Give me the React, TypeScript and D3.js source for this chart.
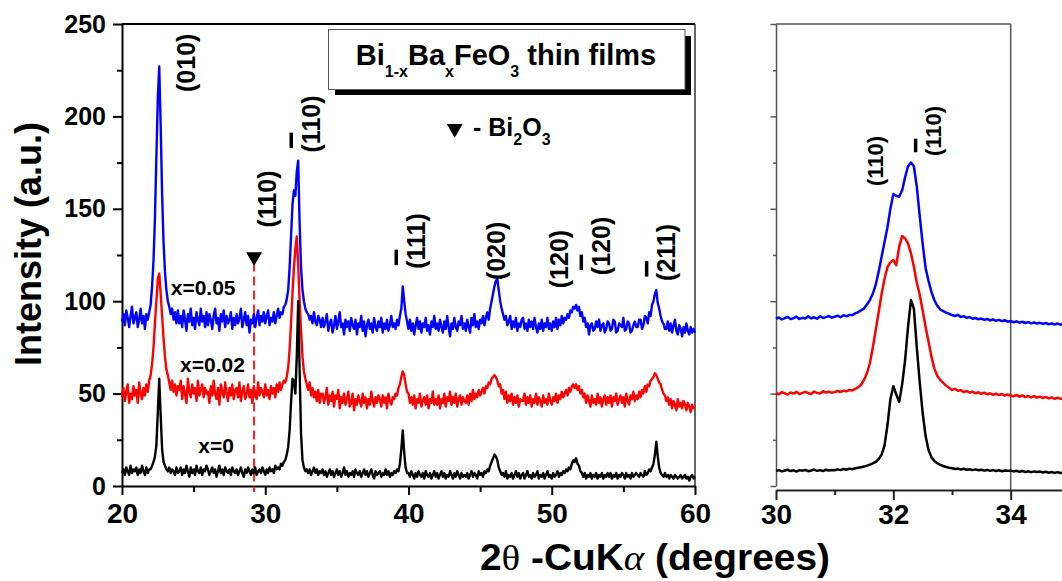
import { useEffect, useRef } from "react";
import * as d3 from "d3";

// survey scans, 2theta = 20..60 deg, 0.1 deg step (one row = 2 deg)
const SCAN_START = 20;
const SCAN_STEP = 0.1;

// x = 0.05
const scanBlue = [
  89, 93, 87, 95, 91, 86, 92, 97, 88, 91, 94, 86, 90, 96, 88, 92, 85, 93, 90, 94,
  98, 108, 122, 145, 178, 210, 227, 195, 158, 132, 116, 106, 100, 97, 93, 96, 90, 94, 88, 95,
  88, 92, 86, 95, 90, 84, 93, 89, 96, 87, 91, 85, 94, 90, 87, 96, 89, 92, 86, 94,
  87, 93, 90, 85, 92, 96, 88, 91, 84, 93, 89, 95, 86, 92, 88, 90, 94, 85, 91, 87,
  93, 88, 91, 96, 86, 90, 94, 87, 92, 83, 90, 88, 93, 86, 91, 95, 87, 92, 89, 94,
  88, 92, 95, 87, 91, 89, 94, 88, 92, 96, 91, 94, 93, 97, 98, 101, 106, 118, 135, 152,
  160, 157, 170, 176, 142, 118, 106, 100, 96, 94, 93, 90, 92, 88, 94, 89, 87, 92, 90, 86,
  91, 86, 89, 93, 84, 88, 90, 83, 87, 92, 85, 89, 94, 86, 88, 82, 90, 86, 89, 84,
  91, 87, 85, 90, 82, 88, 86, 92, 84, 89, 81, 87, 90, 85, 88, 83, 91, 86, 84, 89,
  86, 91, 83, 88, 85, 90, 84, 87, 92, 86, 88, 85, 90, 87, 92, 96, 108, 100, 93, 89,
  85, 90, 84, 88, 82, 87, 91, 85, 89, 83, 88, 86, 91, 84, 87, 82, 89, 86, 92, 85,
  88, 84, 90, 86, 83, 89, 85, 92, 86, 81, 88, 85, 91, 86, 84, 89, 87, 92, 85, 88,
  84, 90, 86, 83, 91, 87, 93, 86, 89, 85, 90, 88, 92, 87, 91, 94, 90, 96, 100, 104,
  108, 111, 112, 106, 100, 96, 93, 90, 92, 87, 89, 92, 85, 89, 86, 91, 84, 88, 86, 90,
  91, 85, 88, 84, 90, 86, 89, 85, 91, 86, 83, 88, 85, 90, 84, 88, 86, 91, 85, 88,
  84, 89, 86, 91, 85, 90, 87, 92, 88, 91, 90, 93, 91, 95, 94, 97, 96, 98, 95, 97,
  92, 94, 89, 91, 86, 88, 82, 87, 88, 84, 85, 89, 86, 90, 84, 87, 88, 83, 85, 89,
  88, 84, 85, 90, 89, 83, 84, 88, 87, 86, 91, 84, 85, 89, 88, 83, 84, 87, 89, 86,
  86, 90, 90, 85, 87, 92, 91, 88, 94, 92, 98, 100, 104, 106, 99, 96, 92, 89, 88, 85,
  85, 89, 84, 88, 83, 87, 90, 84, 82, 87, 85, 81, 86, 83, 88, 84, 82, 86, 83, 85,
  83,
];

// x = 0.02
const scanRed = [
  48, 53, 46, 51, 55, 45, 50, 47, 54, 49, 52, 45, 56, 50, 47, 53, 49, 55, 51, 57,
  60, 66, 75, 88, 100, 112, 115, 104, 92, 80, 70, 63, 60, 56, 52, 57, 51, 55, 49, 54,
  52, 57, 47, 54, 50, 45, 58, 51, 48, 55, 50, 53, 46, 57, 49, 52, 55, 48, 53, 50,
  51, 45, 54, 49, 57, 50, 47, 53, 44, 55, 51, 48, 56, 50, 46, 53, 49, 55, 47, 52,
  53, 48, 56, 46, 51, 54, 47, 50, 55, 48, 52, 45, 54, 50, 47, 56, 49, 53, 51, 48,
  55, 49, 52, 47, 54, 50, 53, 48, 55, 51, 56, 52, 55, 57, 56, 59, 64, 74, 88, 104,
  118, 128, 135, 120, 100, 84, 70, 62, 58, 55, 52, 56, 49, 53, 48, 51, 46, 52, 45, 50,
  50, 45, 48, 53, 44, 49, 46, 51, 43, 49, 47, 52, 42, 48, 45, 50, 44, 47, 51, 43,
  45, 50, 41, 47, 44, 49, 46, 43, 50, 45, 48, 42, 47, 44, 51, 46, 43, 48, 45, 49,
  47, 43, 49, 45, 48, 42, 50, 46, 44, 48, 47, 50, 49, 53, 55, 59, 62, 60, 55, 51,
  50, 45, 48, 44, 49, 42, 47, 45, 50, 43, 46, 48, 44, 49, 42, 47, 45, 51, 44, 47,
  44, 49, 42, 47, 45, 50, 43, 48, 46, 51, 44, 48, 45, 50, 43, 47, 49, 44, 48, 46,
  45, 49, 44, 50, 46, 52, 47, 50, 48, 52, 49, 51, 53, 50, 54, 53, 56, 55, 58, 59,
  60, 59, 57, 54, 55, 50, 52, 47, 51, 45, 49, 46, 50, 44, 48, 45, 49, 43, 47, 46,
  46, 50, 44, 48, 45, 49, 43, 47, 45, 50, 44, 48, 46, 43, 49, 45, 47, 44, 50, 46,
  44, 48, 46, 50, 45, 49, 47, 51, 48, 50, 52, 49, 53, 51, 54, 55, 53, 55, 52, 54,
  50, 52, 48, 50, 45, 49, 46, 43, 49, 45, 47, 44, 50, 45, 48, 43, 47, 49, 44, 48,
  45, 49, 43, 48, 46, 50, 44, 47, 49, 45, 48, 43, 50, 46, 44, 49, 47, 51, 46, 49,
  47, 51, 48, 52, 50, 54, 51, 55, 54, 57, 58, 59, 61, 60, 58, 56, 55, 52, 50, 49,
  46, 48, 44, 47, 42, 46, 44, 41, 47, 43, 45, 42, 46, 44, 41, 45, 43, 40, 44, 42,
  43,
];

// x = 0
const scanBlack = [
  7, 9, 6, 10, 8, 6, 11, 7, 9, 8, 10, 6, 9, 7, 11, 8, 6, 10, 7, 9,
  9, 11, 13, 16, 22, 40, 58, 38, 20, 13, 11, 9, 8, 10, 7, 9, 8, 6, 10, 7,
  8, 10, 6, 9, 7, 11, 8, 5, 10, 7, 9, 6, 11, 8, 7, 10, 6, 9, 8, 11,
  9, 6, 8, 10, 7, 9, 5, 8, 11, 7, 9, 6, 10, 8, 7, 9, 6, 10, 8, 7,
  9, 6, 8, 10, 7, 5, 9, 7, 10, 8, 6, 9, 7, 10, 6, 8, 9, 7, 10, 8,
  6, 9, 7, 10, 8, 9, 7, 11, 9, 10, 9, 12, 11, 13, 14, 17, 21, 30, 45, 58,
  57, 50, 70, 100, 62, 28, 14, 10, 8, 9, 7, 9, 6, 8, 10, 7, 9, 6, 8, 7,
  9, 6, 8, 5, 7, 9, 6, 8, 5, 7, 9, 6, 8, 5, 7, 10, 6, 8, 5, 7,
  6, 8, 5, 9, 7, 6, 8, 5, 7, 9, 6, 8, 5, 7, 9, 6, 4, 8, 6, 7,
  8, 5, 7, 6, 9, 6, 8, 5, 7, 6, 8, 7, 9, 8, 12, 20, 30, 18, 10, 7,
  7, 5, 8, 6, 4, 7, 5, 8, 6, 5, 7, 4, 8, 6, 5, 7, 4, 6, 8, 5,
  7, 4, 6, 8, 5, 7, 4, 6, 5, 8, 6, 4, 7, 5, 8, 6, 4, 7, 5, 6,
  5, 7, 4, 6, 8, 5, 7, 6, 4, 8, 6, 7, 5, 8, 7, 9, 8, 11, 13, 15,
  17, 16, 14, 10, 8, 6, 7, 5, 8, 4, 6, 5, 7, 4, 6, 8, 5, 7, 4, 6,
  7, 4, 6, 8, 5, 6, 4, 7, 5, 6, 8, 4, 6, 5, 7, 4, 6, 8, 5, 6,
  4, 7, 5, 6, 8, 5, 7, 6, 8, 7, 9, 8, 10, 9, 12, 14, 13, 15, 12, 11,
  8, 7, 5, 7, 4, 6, 5, 7, 4, 6, 5, 7, 4, 6, 5, 7, 4, 6, 5, 7,
  5, 7, 4, 6, 5, 7, 4, 6, 5, 7, 6, 4, 7, 5, 6, 4, 7, 5, 6, 7,
  6, 5, 7, 6, 5, 8, 6, 7, 9, 8, 10, 12, 17, 24, 16, 10, 7, 6, 5, 7,
  5, 6, 4, 6, 5, 4, 6, 5, 4, 5, 6, 4, 5, 6, 4, 5, 3, 5, 6, 4,
  5,
];

// zoomed scans, 2theta = 30..35 deg, 0.05 deg step (one row = 0.5 deg)
const ZOOM_START = 30;
const ZOOM_STEP = 0.05;

const zoomBlue = [
  90.5, 91.2, 90.1, 90.9, 91.5, 90.3, 90.8, 91.6, 90.4, 91.0,
  90.6, 91.8, 90.7, 91.3, 90.5, 91.9, 90.9, 91.4, 92.0, 91.1,
  91.6, 92.2, 91.3, 92.4, 91.8, 92.6, 92.5, 93.4, 94.0, 95.1,
  96.0, 98.2, 100.6, 104.0, 109.0, 116.0, 124.0, 132.0, 140.0, 150.0,
  158.0, 157.0, 156.5, 160.0, 167.0, 173.0, 175.0, 173.0, 162.0, 146.0,
  131.0, 118.0, 111.0, 105.0, 100.5, 97.5, 95.5, 94.6, 93.8, 93.2,
  92.5, 92.0, 92.6, 91.5, 91.9, 91.0, 91.4, 90.5, 90.9, 90.2,
  90.6, 89.9, 90.4, 89.6, 90.1, 89.4, 89.9, 89.2, 89.7, 89.0,
  89.2, 88.6, 89.1, 88.4, 88.9, 88.2, 88.7, 88.0, 88.5, 87.9,
  88.3, 87.7, 88.2, 87.5, 88.0, 87.4, 87.9, 87.3, 87.7, 87.4,
  87.5,
];

const zoomRed = [
  50.2, 49.6, 50.8, 50.1, 49.5, 50.6, 50.0, 51.0, 49.7, 50.4,
  50.9, 50.2, 49.8, 51.1, 50.4, 50.0, 51.3, 50.6, 51.0, 50.5,
  50.8, 51.4, 50.9, 51.6, 51.2, 52.0, 51.8, 52.6, 53.4, 54.8,
  57.4, 61.0, 66.4, 75.0, 84.4, 94.0, 104.0, 112.0, 118.5, 121.0,
  122.3, 119.5, 129.5, 135.3, 134.0, 131.3, 126.0, 118.7, 110.0, 103.5,
  95.0, 86.0, 78.0, 70.0, 63.5, 59.5, 57.4, 55.8, 54.3, 53.2,
  52.0, 52.6, 51.5, 51.9, 50.8, 51.4, 50.5, 51.1, 50.2, 50.7,
  49.9, 50.5, 49.6, 50.2, 49.3, 50.0, 49.2, 49.8, 48.9, 49.5,
  49.0, 48.5, 49.3, 48.3, 49.0, 48.1, 48.7, 47.9, 48.6, 47.8,
  48.4, 47.6, 48.2, 47.4, 48.0, 47.2, 47.8, 47.1, 47.6, 47.0,
  47.0,
];

const zoomBlack = [
  8.2, 8.6, 7.9, 8.4, 8.8, 8.1, 8.5, 7.8, 8.6, 8.3,
  8.7, 8.0, 8.4, 8.9, 8.2, 8.6, 8.1, 8.8, 8.4, 8.7,
  8.5, 9.0, 8.6, 9.2, 8.8, 9.4, 9.1, 9.6, 9.9, 10.2,
  10.5, 11.0, 11.6, 12.2, 13.0, 14.5, 17.0, 22.0, 33.0, 47.0,
  54.0, 49.5, 45.5, 55.0, 68.0, 86.0, 100.5, 96.0, 75.0, 56.0,
  39.5, 27.0, 19.5, 15.5, 13.5, 12.3, 11.4, 10.8, 10.3, 9.9,
  9.6, 9.2, 9.5, 8.9, 9.3, 8.8, 9.1, 8.6, 9.0, 8.5,
  8.8, 8.3, 8.7, 8.2, 8.6, 8.1, 8.5, 8.0, 8.4, 8.2,
  8.3, 7.9, 8.2, 7.7, 8.1, 7.6, 8.0, 7.5, 7.9, 7.6,
  7.8, 7.3, 7.7, 7.2, 7.6, 7.1, 7.5, 7.0, 7.4, 7.2,
  7.2,
];

const seriesNames = ["x=0.05", "x=0.02", "x=0"];
const seriesColors = ["#0000ff", "#ff0000", "#000000"];
// where the series names sit (2theta, intensity)
const seriesNameAt = [[23.4, 103.4], [24.05, 61.9], [25.33, 17.7]];

const yTicks = [0, 50, 100, 150, 200, 250];
const yMinor = [25, 75, 125, 175, 225];
const xTicksLeft = [20, 30, 40, 50, 60];
const xMinorLeft = [25, 35, 45, 55];
const xTicksRight = [30, 32, 34];
const xMinorRight = [31, 33, 35];

// reflection labels: text, overbar on first index, label centre (2theta, intensity)
const peaksLeft = [
  { text: "(010)", bar: false, at: [24.63, 229] },
  { text: "(110)", bar: false, at: [30.33, 155.3] },
  { text: "(110)", bar: true, at: [33.35, 195.9] },
  { text: "(111)", bar: true, at: [40.68, 132.6] },
  { text: "(020)", bar: false, at: [46.3, 127.2] },
  { text: "(120)", bar: false, at: [50.65, 122.8] },
  { text: "(120)", bar: true, at: [53.6, 129.9] },
  { text: "(211)", bar: true, at: [58.16, 126.4] },
];
const peaksRight = [
  { text: "(110)", bar: false, at: [31.73, 175.9] },
  { text: "(110)", bar: true, at: [32.71, 192.1] },
];

// Bi2O3 impurity line
const bi2o3Angle = 29.22;

const FONT = "'Liberation Sans', Arial, sans-serif";

const App = () => {
  const ref = useRef<SVGSVGElement>(null);

  useEffect(() => {
    const svg = d3.select(ref.current);
    svg.selectAll("*").remove();
    svg.attr("font-family", FONT).attr("font-weight", "bold");

    const x = d3.scaleLinear().domain([20, 60]).range([122, 695]);
    const xr = d3.scaleLinear().domain([30, 35]).range([776, 776 + 5 * 58.67]);
    const y = d3.scaleLinear().domain([0, 250]).range([486, 24]);

    const styleAxis = (g: any, color: string, width: number) => {
      g.selectAll("line,path").attr("stroke", color).attr("stroke-width", width);
      g.selectAll("text").attr("fill", "#000");
    };

    // ---------- left panel ----------
    const left = svg.append("g");

    // frame top / right
    left.append("line").attr("x1", 122).attr("x2", 695).attr("y1", 24).attr("y2", 24)
      .attr("stroke", "#000").attr("stroke-width", 2);
    left.append("line").attr("x1", 695).attr("x2", 695).attr("y1", 24).attr("y2", 486)
      .attr("stroke", "#333").attr("stroke-width", 1.5);

    const yAxis = left.append("g").attr("transform", "translate(122,0)")
      .call(d3.axisLeft(y).tickValues(yTicks).tickSize(9).tickPadding(7).tickSizeOuter(0));
    yAxis.attr("font-size", 25).attr("font-family", FONT).attr("font-weight", "bold");
    styleAxis(yAxis, "#000", 2);
    const yAxisMinor = left.append("g").attr("transform", "translate(122,0)")
      .call(d3.axisLeft(y).tickValues(yMinor).tickSize(5).tickFormat(() => ""));
    yAxisMinor.select(".domain").remove();
    styleAxis(yAxisMinor, "#000", 2);

    const xAxis = left.append("g").attr("transform", "translate(0,486)")
      .call(d3.axisBottom(x).tickValues(xTicksLeft).tickSize(9).tickPadding(8).tickSizeOuter(0));
    xAxis.attr("font-size", 28).attr("font-family", FONT).attr("font-weight", "bold");
    styleAxis(xAxis, "#000", 2);
    const xAxisMinor = left.append("g").attr("transform", "translate(0,486)")
      .call(d3.axisBottom(x).tickValues(xMinorLeft).tickSize(6).tickFormat(() => ""));
    xAxisMinor.select(".domain").remove();
    styleAxis(xAxisMinor, "#000", 2);

    // dashed Bi2O3 marker
    left.append("line")
      .attr("x1", x(bi2o3Angle)).attr("x2", x(bi2o3Angle))
      .attr("y1", y(121)).attr("y2", y(-3.3))
      .attr("stroke", "#ff2020").attr("stroke-width", 2).attr("stroke-dasharray", "9,5");
    const tri = d3.symbol().type(d3.symbolTriangle).size(110);
    left.append("path").attr("d", tri()!)
      .attr("transform", `translate(${x(bi2o3Angle)},${y(124)}) rotate(180)`)
      .attr("fill", "#000");

    const scanLine = d3.line<number>()
      .x((_, i) => x(SCAN_START + i * SCAN_STEP))
      .y((d) => y(d));
    [scanBlue, scanRed, scanBlack].forEach((s, k) => {
      left.append("path").datum(s).attr("d", scanLine)
        .attr("fill", "none").attr("stroke", seriesColors[k])
        .attr("stroke-width", 2.4).attr("stroke-linejoin", "round");
    });

    seriesNames.forEach((n, k) => {
      left.append("text").attr("x", x(seriesNameAt[k][0])).attr("y", y(seriesNameAt[k][1]))
        .attr("font-size", 21).text(n);
    });

    const peakLabel = (g: any, cx: number, cy: number, text: string, size: number, bar: boolean) => {
      const lg = g.append("g").attr("transform", `translate(${cx},${cy}) rotate(-90)`);
      lg.append("text").attr("text-anchor", "middle").attr("y", size * 0.26)
        .attr("font-size", size).text(text);
      if (bar) {
        const half = (size * 2.334) / 2;
        lg.append("line")
          .attr("x1", -half + 0.2 * size).attr("x2", -half + 0.82 * size)
          .attr("y1", -0.88 * size).attr("y2", -0.88 * size)
          .attr("stroke", "#000").attr("stroke-width", 3.5);
      }
    };
    peaksLeft.forEach((p) => peakLabel(left, x(p.at[0]), y(p.at[1]), p.text, 25, p.bar));

    // title box with shadow
    left.append("rect").attr("x", 335).attr("y", 36).attr("width", 356).attr("height", 59).attr("fill", "#000");
    left.append("rect").attr("x", 328.5).attr("y", 29.5).attr("width", 356.5).attr("height", 60)
      .attr("fill", "#fff").attr("stroke", "#555").attr("stroke-width", 1);
    const title = left.append("text").attr("x", 506).attr("y", 65).attr("text-anchor", "middle").attr("font-size", 29);
    title.append("tspan").text("Bi");
    title.append("tspan").attr("font-size", 16).attr("dy", 12).text("1-x");
    title.append("tspan").attr("dy", -12).text("Ba");
    title.append("tspan").attr("font-size", 16).attr("dy", 12).text("x");
    title.append("tspan").attr("dy", -12).text("FeO");
    title.append("tspan").attr("font-size", 16).attr("dy", 12).text("3");
    title.append("tspan").attr("dy", -12).text(" thin films");

    left.append("path").attr("d", tri()!)
      .attr("transform", "translate(454.7,128.5) rotate(180)").attr("fill", "#000");
    const leg = left.append("text").attr("x", 473).attr("y", 136).attr("font-size", 25);
    leg.append("tspan").text("- Bi");
    leg.append("tspan").attr("font-size", 16).attr("dy", 9).text("2");
    leg.append("tspan").attr("dy", -9).text("O");
    leg.append("tspan").attr("font-size", 16).attr("dy", 9).text("3");

    // ---------- right panel ----------
    const right = svg.append("g");
    right.append("line").attr("x1", 776).attr("x2", xr(34)).attr("y1", 24).attr("y2", 24)
      .attr("stroke", "#555").attr("stroke-width", 1.5);
    right.append("line").attr("x1", xr(34)).attr("x2", xr(34)).attr("y1", 24).attr("y2", 490)
      .attr("stroke", "#555").attr("stroke-width", 1.5);

    const ryAxis = right.append("g").attr("transform", "translate(776,0)")
      .call(d3.axisLeft(y).tickValues(yTicks).tickSize(5.5).tickFormat(() => "").tickSizeOuter(0));
    styleAxis(ryAxis, "#555", 1.5);
    const ryMinor = right.append("g").attr("transform", "translate(776,0)")
      .call(d3.axisLeft(y).tickValues(yMinor).tickSize(3).tickFormat(() => ""));
    ryMinor.select(".domain").remove();
    styleAxis(ryMinor, "#555", 1.5);

    const rxAxis = right.append("g").attr("transform", "translate(0,490)")
      .call(d3.axisBottom(xr).tickValues(xTicksRight).tickFormat(d3.format("d")).tickSize(10).tickPadding(4).tickSizeOuter(0));
    rxAxis.attr("font-size", 28).attr("font-family", FONT).attr("font-weight", "bold");
    styleAxis(rxAxis, "#222", 2);
    const rxMinor = right.append("g").attr("transform", "translate(0,490)")
      .call(d3.axisBottom(xr).tickValues(xMinorRight).tickSize(5).tickFormat(() => ""));
    rxMinor.select(".domain").remove();
    styleAxis(rxMinor, "#222", 2);

    const zoomLine = d3.line<number>()
      .x((_, i) => xr(ZOOM_START + i * ZOOM_STEP))
      .y((d) => y(d));
    [zoomBlue, zoomRed, zoomBlack].forEach((s, k) => {
      right.append("path").datum(s).attr("d", zoomLine)
        .attr("fill", "none").attr("stroke", seriesColors[k])
        .attr("stroke-width", 2.5).attr("stroke-linejoin", "round");
    });
    peaksRight.forEach((p) => peakLabel(right, xr(p.at[0]), y(p.at[1]), p.text, 22, p.bar));

    // ---------- axis titles ----------
    const xt = svg.append("text").attr("x", 480).attr("y", 570).attr("font-size", 36)
      .attr("textLength", 350).attr("lengthAdjust", "spacingAndGlyphs");
    xt.append("tspan").text("2");
    xt.append("tspan").attr("font-family", "'Liberation Serif', serif").attr("font-weight", "normal").text("θ");
    xt.append("tspan").text(" -CuK");
    xt.append("tspan").attr("font-family", "'Liberation Serif', serif").attr("font-weight", "normal")
      .attr("font-style", "italic").text("α");
    xt.append("tspan").text(" (degrees)");

    svg.append("text")
      .attr("transform", "translate(41,244) rotate(-90)")
      .attr("text-anchor", "middle").attr("font-size", 36)
      .text("Intensity (a.u.)");
  }, []);

  return (
    <svg
      ref={ref}
      width={1062}
      height={581}
      style={{ position: "absolute", left: 0, top: 0, background: "#fff" }}
    />
  );
};

export default App;
